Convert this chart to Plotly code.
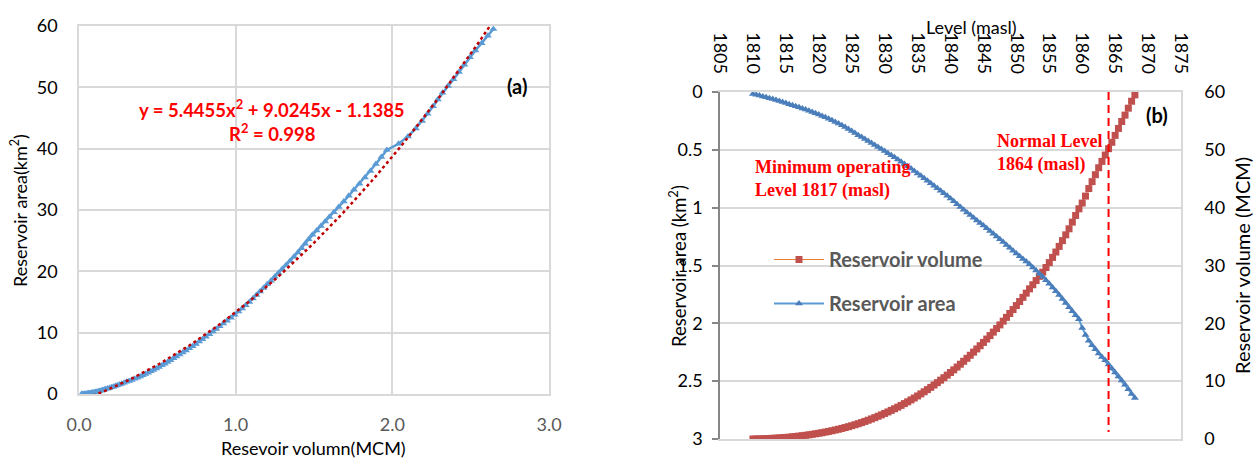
import plotly.graph_objects as go

W, H = 1255, 459

# Reservoir elevation table (masl), 0.5 m steps
level = [
    1810.0, 1810.5, 1811.0, 1811.5, 1812.0, 1812.5, 1813.0, 1813.5, 1814.0, 1814.5,
    1815.0, 1815.5, 1816.0, 1816.5, 1817.0, 1817.5, 1818.0, 1818.5, 1819.0, 1819.5,
    1820.0, 1820.5, 1821.0, 1821.5, 1822.0, 1822.5, 1823.0, 1823.5, 1824.0, 1824.5,
    1825.0, 1825.5, 1826.0, 1826.5, 1827.0, 1827.5, 1828.0, 1828.5, 1829.0, 1829.5,
    1830.0, 1830.5, 1831.0, 1831.5, 1832.0, 1832.5, 1833.0, 1833.5, 1834.0, 1834.5,
    1835.0, 1835.5, 1836.0, 1836.5, 1837.0, 1837.5, 1838.0, 1838.5, 1839.0, 1839.5,
    1840.0, 1840.5, 1841.0, 1841.5, 1842.0, 1842.5, 1843.0, 1843.5, 1844.0, 1844.5,
    1845.0, 1845.5, 1846.0, 1846.5, 1847.0, 1847.5, 1848.0, 1848.5, 1849.0, 1849.5,
    1850.0, 1850.5, 1851.0, 1851.5, 1852.0, 1852.5, 1853.0, 1853.5, 1854.0, 1854.5,
    1855.0, 1855.5, 1856.0, 1856.5, 1857.0, 1857.5, 1858.0, 1858.5, 1859.0, 1859.5,
    1860.0, 1860.5, 1861.0, 1861.5, 1862.0, 1862.5, 1863.0, 1863.5, 1864.0, 1864.5,
    1865.0, 1865.5, 1866.0, 1866.5, 1867.0, 1867.5, 1868.0,
]

# Water-surface area at each level (km2)
area = [
    0.017, 0.024, 0.031, 0.038, 0.046, 0.053, 0.061, 0.069, 0.078, 0.087,
    0.096, 0.105, 0.114, 0.123, 0.132, 0.142, 0.152, 0.162, 0.172, 0.183,
    0.195, 0.207, 0.219, 0.232, 0.245, 0.259, 0.273, 0.288, 0.303, 0.320,
    0.337, 0.355, 0.373, 0.390, 0.407, 0.424, 0.441, 0.458, 0.475, 0.493,
    0.511, 0.529, 0.547, 0.565, 0.584, 0.603, 0.622, 0.642, 0.662, 0.683,
    0.704, 0.725, 0.746, 0.767, 0.788, 0.810, 0.832, 0.854, 0.876, 0.898,
    0.921, 0.945, 0.970, 0.994, 1.018, 1.041, 1.064, 1.087, 1.110, 1.132,
    1.155, 1.178, 1.201, 1.225, 1.249, 1.273, 1.297, 1.322, 1.347, 1.372,
    1.397, 1.420, 1.443, 1.466, 1.490, 1.517, 1.544, 1.571, 1.598, 1.627,
    1.658, 1.690, 1.722, 1.755, 1.790, 1.825, 1.860, 1.895, 1.930, 1.965,
    2.040, 2.100, 2.150, 2.190, 2.225, 2.260, 2.290, 2.320, 2.355, 2.390,
    2.425, 2.460, 2.495, 2.530, 2.570, 2.610, 2.645,
]

# Stored volume at each level (MCM)
volume = [
    0.00, 0.01, 0.02, 0.04, 0.06, 0.09, 0.12, 0.15, 0.19, 0.23,
    0.27, 0.32, 0.38, 0.44, 0.50, 0.57, 0.64, 0.72, 0.81, 0.90,
    0.99, 1.09, 1.20, 1.31, 1.43, 1.56, 1.69, 1.83, 1.98, 2.13,
    2.30, 2.47, 2.65, 2.84, 3.04, 3.25, 3.47, 3.69, 3.93, 4.17,
    4.42, 4.68, 4.95, 5.23, 5.51, 5.81, 6.12, 6.43, 6.76, 7.09,
    7.44, 7.80, 8.17, 8.54, 8.93, 9.33, 9.74, 10.17, 10.60, 11.04,
    11.50, 11.96, 12.44, 12.93, 13.44, 13.95, 14.48, 15.02, 15.57, 16.13,
    16.70, 17.28, 17.88, 18.48, 19.10, 19.73, 20.38, 21.03, 21.70, 22.38,
    23.07, 23.77, 24.49, 25.22, 25.96, 26.67, 27.40, 28.12, 28.85, 29.65,
    30.50, 31.40, 32.33, 33.30, 34.30, 35.30, 36.35, 37.50, 38.65, 39.80,
    40.80, 42.00, 43.30, 44.50, 45.70, 46.90, 48.00, 49.10, 50.20, 51.30,
    52.50, 53.70, 54.90, 56.00, 57.20, 58.40, 59.50,
]

# Quadratic trendline reported on panel (a)
fit_a, fit_b, fit_c = 5.4455, 9.0245, -1.1385
fit_r2 = 0.998

normal_level = 1864
min_level = 1817

trend_y = [fit_a * x * x + fit_b * x + fit_c for x in area]

FONT = "Lato"
GRID = "#d9d9d9"


def px_x(p):
    return p / W


def px_y(p):
    return 1 - p / H


fig = go.Figure()

# ---- panel (a): area vs volume with fitted trendline
fig.add_trace(go.Scatter(
    x=area, y=volume, mode="lines+markers", xaxis="x", yaxis="y",
    line=dict(color="#5b9bd5", width=2.5),
    marker=dict(symbol="triangle-up", size=7, color="#5b9bd5"),
    showlegend=False, hoverinfo="skip",
))
fig.add_trace(go.Scatter(
    x=area, y=trend_y, mode="lines", xaxis="x", yaxis="y",
    line=dict(color="#c00000", width=2.5, dash="dot"),
    showlegend=False, hoverinfo="skip",
))

# ---- panel (b): volume (right axis) and area (left, reversed) against level
fig.add_trace(go.Scatter(
    x=level, y=volume, mode="lines+markers", xaxis="x2", yaxis="y2",
    name="Reservoir volume", legendgroup="vol",
    line=dict(color="#ed7d31", width=1),
    marker=dict(symbol="square", size=7, color="#c0504d"),
    hoverinfo="skip",
))
fig.add_trace(go.Scatter(
    x=level, y=area, mode="lines+markers", xaxis="x2", yaxis="y3",
    name="Reservoir area", legendgroup="area",
    line=dict(color="#5b9bd5", width=2),
    marker=dict(symbol="triangle-up", size=7, color="#4a7ebb"),
    hoverinfo="skip",
))
fig.add_trace(go.Scatter(
    x=[normal_level, normal_level], y=[0, 2.94], mode="lines",
    xaxis="x2", yaxis="y3",
    line=dict(color="#ff0000", width=2, dash="8px,5px"),
    showlegend=False, hoverinfo="skip",
))

tick_a = dict(family=FONT, size=18)

fig.update_layout(
    width=W, height=H,
    margin=dict(l=0, r=0, t=0, b=0, autoexpand=False),
    paper_bgcolor="white", plot_bgcolor="white",
    font=dict(family=FONT, color="black"),
    xaxis=dict(
        domain=[px_x(79), px_x(549)], anchor="y", automargin=False,
        range=[0, 3], dtick=1, tickformat=".1f",
        showgrid=True, gridcolor=GRID, gridwidth=1.5,
        showline=True, mirror=True, linecolor=GRID, linewidth=1.5,
        zeroline=False, ticks="", ticklabelstandoff=14,
        tickfont=dict(tick_a, color="#595959"),
    ),
    yaxis=dict(
        domain=[px_y(394), px_y(26)], anchor="x", automargin=False,
        range=[0, 60], dtick=10,
        showgrid=True, gridcolor=GRID, gridwidth=1.5,
        showline=True, mirror=True, linecolor=GRID, linewidth=1.5,
        zeroline=False, ticks="", ticklabelstandoff=16,
        tickfont=dict(tick_a, color="black"),
    ),
    xaxis2=dict(
        domain=[px_x(720), px_x(1181)], anchor="y2", side="top",
        automargin=False,
        range=[1805, 1875], dtick=5, tickangle=90,
        showgrid=False, showline=True, mirror=True,
        linecolor=GRID, linewidth=1.5, zeroline=False, ticks="",
        ticklabelstandoff=10,
        tickfont=dict(family=FONT, size=18, color="black"),
    ),
    yaxis2=dict(
        domain=[px_y(439), px_y(92)], anchor="x2", side="right",
        automargin=False,
        range=[0, 60], dtick=10,
        showgrid=True, gridcolor=GRID, gridwidth=1.5,
        showline=True, linecolor=GRID, linewidth=1.5,
        zeroline=False, ticks="", ticklabelstandoff=18,
        tickfont=dict(family=FONT, size=18, color="black"),
    ),
    yaxis3=dict(
        overlaying="y2", anchor="x2", side="left", automargin=False,
        range=[3, 0], dtick=0.5,
        showgrid=False, showline=True, linecolor="#868686", linewidth=1.5,
        zeroline=False, ticks="outside", ticklen=6, tickcolor="#868686",
        tickwidth=1.5, ticklabelstandoff=6,
        tickfont=dict(family=FONT, size=18, color="black"),
    ),
    legend=dict(
        x=px_x(769), y=px_y(240), xanchor="left", yanchor="top",
        bgcolor="rgba(0,0,0,0)", traceorder="grouped", tracegroupgap=15,
        itemwidth=50,
        font=dict(family=FONT, size=20, color="#595959", weight="bold"),
    ),
    showlegend=True,
)

ann = []


def add_text(text, x, y, size=18, color="black", angle=0, family=FONT,
             xanchor="center", align="center"):
    ann.append(dict(
        text=text, x=px_x(x), y=px_y(y), xref="paper", yref="paper",
        showarrow=False, textangle=angle, xanchor=xanchor, yanchor="middle",
        align=align, font=dict(family=family, size=size, color=color),
    ))


# panel (a) labels
add_text("Reservoir area(km<sup>2</sup>)", 19, 211, angle=-90)
add_text("Resevoir volumn(MCM)", 313, 448)
add_text("<b>y = %.4fx<sup>2</sup> + %.4fx - %.4f</b>" % (fit_a, fit_b, -fit_c),
         272, 108, size=18.5, color="#ff0000")
add_text("<b>R<sup>2</sup> = %.3f</b>" % fit_r2, 272, 132, size=18.5, color="#ff0000")
add_text("<b>(a)</b>", 517, 86, size=20)

# panel (b) labels
add_text("Level (masl)", 971, 27)
add_text("Reservoir area (km<sup>2</sup>)", 677, 266, size=18.5, angle=-90)
add_text("Reservoir volume (MCM)", 1242, 266, size=20, angle=-90)
add_text("<b>(b)</b>", 1157, 115, size=20)
add_text("<b>Minimum operating<br>Level %d (masl)</b>" % min_level, 753, 179,
         size=18, color="#ff0000", family="Liberation Serif",
         xanchor="left", align="left")
add_text("<b>Normal Level<br>%d (masl)</b>" % normal_level, 995, 153,
         size=18, color="#ff0000", family="Liberation Serif",
         xanchor="left", align="left")

fig.update_layout(annotations=ann)

fig.write_html("out.html")
